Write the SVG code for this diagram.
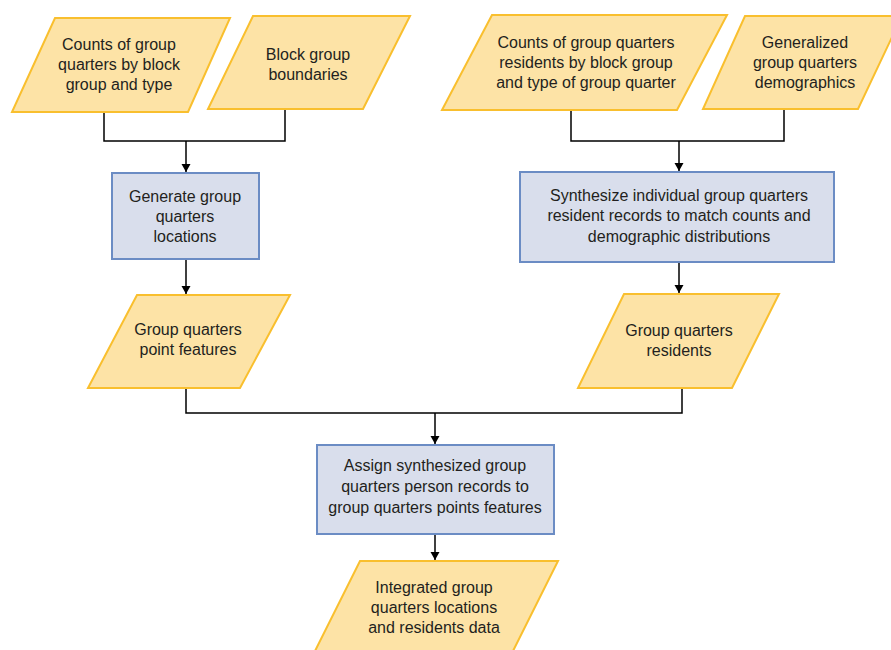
<svg xmlns="http://www.w3.org/2000/svg" width="891" height="650" viewBox="0 0 891 650">
<defs>
<style>
.data{fill:#fde3a6;stroke:#f9bf2e;stroke-width:2;stroke-linejoin:miter}
.proc{fill:#d9deec;stroke:#6b8cc4;stroke-width:2}
.t{font-family:"Liberation Sans",Arial,sans-serif;font-size:16px;fill:#231f20;text-anchor:middle}
.c{fill:none;stroke:#000;stroke-width:1.5}
</style>
<marker id="ah" markerWidth="10" markerHeight="10" refX="8" refY="5" orient="auto" markerUnits="userSpaceOnUse" viewBox="0 0 10 10">
<path d="M0,0.5 L8,5 L0,9.5 Z" fill="#000"/>
</marker>
</defs>
<rect width="891" height="650" fill="#fff"/>
<g id="connectors">
<path class="c" d="M104,112 V141 H285 V109"/>
<path class="c" d="M186,141 V172" marker-end="url(#ah)"/>
<path class="c" d="M186,259 V294" marker-end="url(#ah)"/>
<path class="c" d="M571,110 V141 H784 V109"/>
<path class="c" d="M679,141 V171" marker-end="url(#ah)"/>
<path class="c" d="M679,262 V293" marker-end="url(#ah)"/>
<path class="c" d="M186,388 V413 H682 V388"/>
<path class="c" d="M435,413 V444" marker-end="url(#ah)"/>
<path class="c" d="M435,534 V560" marker-end="url(#ah)"/>
</g>
<g id="counts-gq">
<polygon class="data" points="55,18 230,18 188,112 12,112"/>
<text class="t"><tspan x="119" y="50">Counts of group</tspan><tspan x="119" y="70">quarters by block</tspan><tspan x="119" y="90">group and type</tspan></text>
</g>
<g id="block-group-boundaries">
<polygon class="data" points="253,16 410,16 363,109 208,109"/>
<text class="t"><tspan x="308" y="60">Block group</tspan><tspan x="308" y="80">boundaries</tspan></text>
</g>
<g id="counts-residents">
<polygon class="data" points="492,15 727,15 677,110 442,110"/>
<text class="t"><tspan x="586" y="48">Counts of group quarters</tspan><tspan x="586" y="68">residents by block group</tspan><tspan x="586" y="88">and type of group quarter</tspan></text>
</g>
<g id="generalized-demographics">
<polygon class="data" points="745,16 902,16 858,109 703,109"/>
<text class="t"><tspan x="805" y="48">Generalized</tspan><tspan x="805" y="68">group quarters</tspan><tspan x="805" y="88">demographics</tspan></text>
</g>
<g id="generate-locations">
<rect class="proc" x="112" y="173" width="147" height="86"/>
<text class="t"><tspan x="185" y="202">Generate group</tspan><tspan x="185" y="222">quarters</tspan><tspan x="185" y="242">locations</tspan></text>
</g>
<g id="synthesize-records">
<rect class="proc" x="520" y="172" width="314" height="90"/>
<text class="t"><tspan x="679" y="201">Synthesize individual group quarters</tspan><tspan x="679" y="221">resident records to match counts and</tspan><tspan x="679" y="242">demographic distributions</tspan></text>
</g>
<g id="point-features">
<polygon class="data" points="137,295 290,295 240,388 88,388"/>
<text class="t"><tspan x="188" y="335">Group quarters</tspan><tspan x="188" y="355">point features</tspan></text>
</g>
<g id="gq-residents">
<polygon class="data" points="624,294 779,294 732,388 578,388"/>
<text class="t"><tspan x="679" y="336">Group quarters</tspan><tspan x="679" y="356">residents</tspan></text>
</g>
<g id="assign-records">
<rect class="proc" x="317" y="445" width="237" height="89"/>
<text class="t"><tspan x="435" y="471">Assign synthesized group</tspan><tspan x="435" y="492">quarters person records to</tspan><tspan x="435" y="513">group quarters points features</tspan></text>
</g>
<g id="integrated-data">
<polygon class="data" points="360,561 558,561 508,661 310,661"/>
<text class="t"><tspan x="434" y="593">Integrated group</tspan><tspan x="434" y="613">quarters locations</tspan><tspan x="434" y="633">and residents data</tspan></text>
</g>
</svg>
